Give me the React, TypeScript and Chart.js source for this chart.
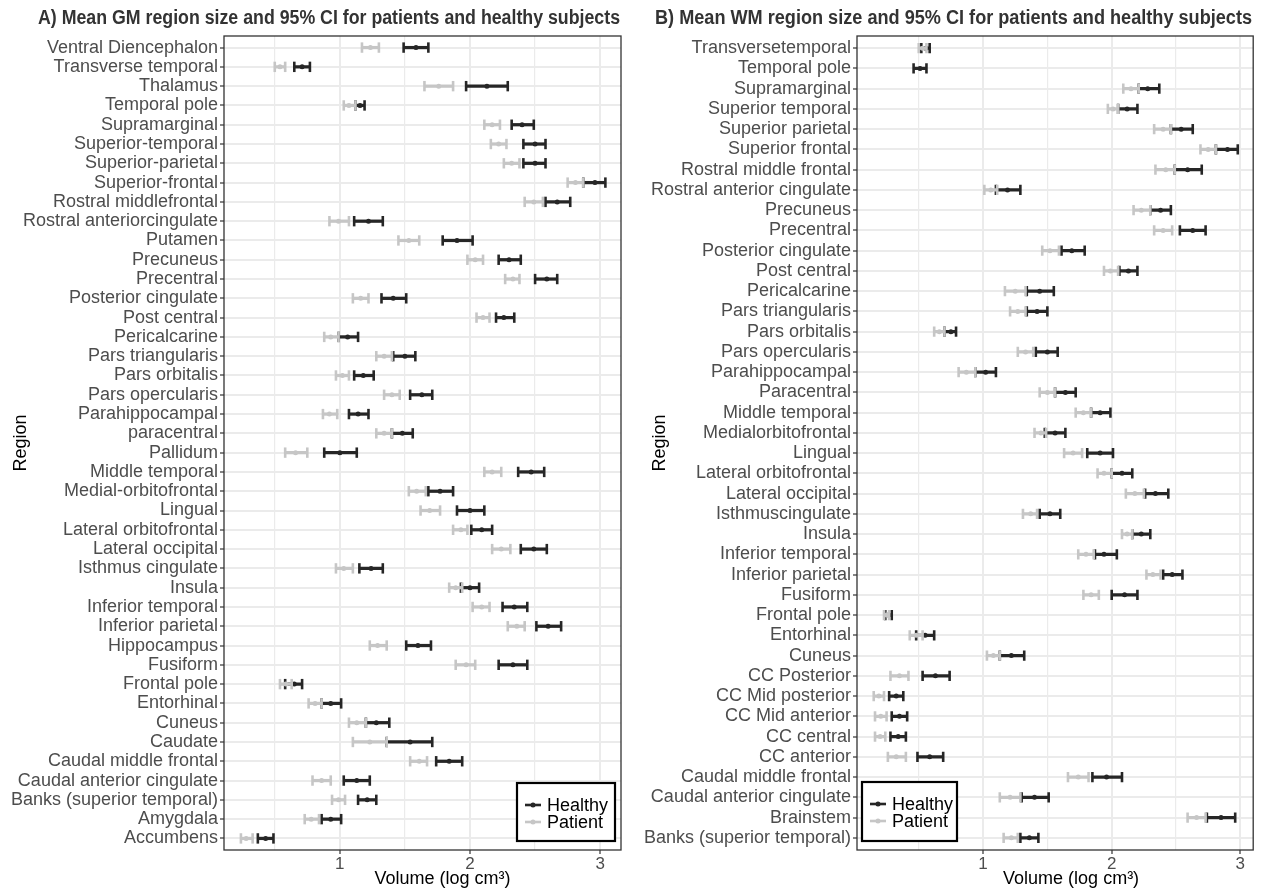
import React, { useEffect, useRef } from 'react';
import { Chart, registerables } from 'chart.js';

Chart.register(...registerables);

// ---------- Grey matter (panel A) ----------
const gmRegions = [
  'Ventral Diencephalon', 'Transverse temporal', 'Thalamus', 'Temporal pole', 'Supramarginal',
  'Superior-temporal', 'Superior-parietal', 'Superior-frontal', 'Rostral middlefrontal',
  'Rostral anteriorcingulate', 'Putamen', 'Precuneus', 'Precentral', 'Posterior cingulate',
  'Post central', 'Pericalcarine', 'Pars triangularis', 'Pars orbitalis', 'Pars opercularis',
  'Parahippocampal', 'paracentral', 'Pallidum', 'Middle temporal', 'Medial-orbitofrontal',
  'Lingual', 'Lateral orbitofrontal', 'Lateral occipital', 'Isthmus cingulate', 'Insula',
  'Inferior temporal', 'Inferior parietal', 'Hippocampus', 'Fusiform', 'Frontal pole',
  'Entorhinal', 'Cuneus', 'Caudate', 'Caudal middle frontal', 'Caudal anterior cingulate',
  'Banks (superior temporal)', 'Amygdala', 'Accumbens',
];
const gmHealthyLow = [
  1.49, 0.65, 1.97, 1.12, 2.32, 2.41, 2.41, 2.87, 2.58, 1.11, 1.79, 2.22, 2.50, 1.32,
  2.20, 0.99, 1.41, 1.11, 1.54, 1.07, 1.40, 0.88, 2.37, 1.68, 1.90, 2.01, 2.39, 1.15,
  1.93, 2.25, 2.51, 1.51, 2.22, 0.58, 0.86, 1.20, 1.36, 1.74, 1.03, 1.14, 0.86, 0.37,
];
const gmHealthyMean = [
  1.585, 0.71, 2.13, 1.155, 2.40, 2.50, 2.50, 2.96, 2.67, 1.22, 1.90, 2.30, 2.59, 1.41,
  2.26, 1.06, 1.50, 1.18, 1.63, 1.14, 1.48, 1.00, 2.47, 1.77, 2.00, 2.09, 2.49, 1.24,
  2.00, 2.34, 2.60, 1.60, 2.33, 0.65, 0.93, 1.28, 1.54, 1.84, 1.13, 1.21, 0.93, 0.43,
];
const gmHealthyHigh = [
  1.68, 0.77, 2.29, 1.19, 2.49, 2.58, 2.58, 3.04, 2.77, 1.33, 2.02, 2.39, 2.67, 1.51,
  2.34, 1.14, 1.58, 1.26, 1.71, 1.22, 1.56, 1.13, 2.57, 1.87, 2.11, 2.17, 2.59, 1.33,
  2.07, 2.44, 2.70, 1.70, 2.44, 0.71, 1.01, 1.38, 1.71, 1.94, 1.23, 1.28, 1.01, 0.49,
];
const gmPatientLow = [
  1.17, 0.50, 1.65, 1.03, 2.11, 2.16, 2.26, 2.75, 2.42, 0.92, 1.45, 1.98, 2.27, 1.10,
  2.05, 0.88, 1.28, 0.97, 1.34, 0.87, 1.28, 0.58, 2.11, 1.53, 1.62, 1.87, 2.17, 0.97,
  1.84, 2.02, 2.29, 1.23, 1.89, 0.54, 0.76, 1.07, 1.10, 1.54, 0.79, 0.94, 0.73, 0.24,
];
const gmPatientMean = [
  1.235, 0.54, 1.76, 1.07, 2.17, 2.22, 2.32, 2.81, 2.49, 0.99, 1.53, 2.04, 2.33, 1.16,
  2.10, 0.93, 1.34, 1.02, 1.40, 0.92, 1.34, 0.66, 2.17, 1.59, 1.69, 1.93, 2.24, 1.03,
  1.89, 2.09, 2.36, 1.29, 1.97, 0.585, 0.81, 1.13, 1.23, 1.61, 0.86, 0.99, 0.78, 0.28,
];
const gmPatientHigh = [
  1.30, 0.58, 1.87, 1.12, 2.23, 2.28, 2.38, 2.87, 2.56, 1.07, 1.61, 2.10, 2.38, 1.22,
  2.15, 0.99, 1.40, 1.07, 1.46, 0.98, 1.40, 0.75, 2.24, 1.66, 1.77, 1.98, 2.31, 1.10,
  1.94, 2.15, 2.42, 1.36, 2.04, 0.63, 0.86, 1.20, 1.36, 1.67, 0.93, 1.04, 0.84, 0.33,
];

// ---------- White matter (panel B) ----------
const wmRegions = [
  'Transversetemporal', 'Temporal pole', 'Supramarginal', 'Superior temporal', 'Superior parietal',
  'Superior frontal', 'Rostral middle frontal', 'Rostral anterior cingulate', 'Precuneus',
  'Precentral', 'Posterior cingulate', 'Post central', 'Pericalcarine', 'Pars triangularis',
  'Pars orbitalis', 'Pars opercularis', 'Parahippocampal', 'Paracentral', 'Middle temporal',
  'Medialorbitofrontal', 'Lingual', 'Lateral orbitofrontal', 'Lateral occipital',
  'Isthmuscingulate', 'Insula', 'Inferior temporal', 'Inferior parietal', 'Fusiform',
  'Frontal pole', 'Entorhinal', 'Cuneus', 'CC Posterior', 'CC Mid posterior', 'CC Mid anterior',
  'CC central', 'CC anterior', 'Caudal middle frontal', 'Caudal anterior cingulate', 'Brainstem',
  'Banks (superior temporal)',
];
const wmHealthyLow = [
  0.52, 0.46, 2.21, 2.05, 2.46, 2.81, 2.49, 1.10, 2.30, 2.53, 1.61, 2.06, 1.34, 1.34,
  0.70, 1.41, 0.94, 1.56, 1.84, 1.48, 1.81, 2.00, 2.26, 1.44, 2.16, 1.87, 2.40, 2.00,
  0.24, 0.48, 1.13, 0.53, 0.27, 0.29, 0.28, 0.49, 1.85, 1.30, 2.74, 1.29,
];
const wmHealthyMean = [
  0.555, 0.51, 2.28, 2.12, 2.54, 2.90, 2.59, 1.19, 2.38, 2.63, 1.69, 2.13, 1.44, 1.42,
  0.75, 1.50, 1.02, 1.64, 1.91, 1.56, 1.91, 2.08, 2.34, 1.52, 2.23, 1.94, 2.47, 2.10,
  0.265, 0.55, 1.22, 0.63, 0.325, 0.35, 0.34, 0.585, 1.96, 1.40, 2.85, 1.36,
];
const wmHealthyHigh = [
  0.585, 0.56, 2.37, 2.20, 2.63, 2.98, 2.70, 1.29, 2.46, 2.73, 1.79, 2.20, 1.55, 1.50,
  0.79, 1.58, 1.10, 1.72, 1.99, 1.64, 2.01, 2.16, 2.44, 1.60, 2.30, 2.04, 2.55, 2.20,
  0.29, 0.62, 1.32, 0.74, 0.38, 0.41, 0.40, 0.69, 2.08, 1.51, 2.96, 1.43,
];
const wmPatientLow = [
  0.50, null, 2.09, 1.97, 2.33, 2.69, 2.34, 1.01, 2.17, 2.33, 1.46, 1.94, 1.17, 1.21,
  0.62, 1.27, 0.81, 1.44, 1.72, 1.40, 1.63, 1.89, 2.11, 1.31, 2.08, 1.74, 2.27, 1.78,
  0.23, 0.43, 1.03, 0.28, 0.15, 0.16, 0.16, 0.26, 1.66, 1.13, 2.59, 1.16,
];
const wmPatientMean = [
  0.53, null, 2.15, 2.01, 2.40, 2.75, 2.42, 1.06, 2.23, 2.40, 1.52, 1.99, 1.25, 1.27,
  0.66, 1.33, 0.87, 1.50, 1.78, 1.45, 1.70, 1.94, 2.18, 1.37, 2.12, 1.80, 2.32, 1.84,
  0.25, 0.48, 1.08, 0.35, 0.19, 0.205, 0.20, 0.325, 1.74, 1.21, 2.66, 1.22,
];
const wmPatientHigh = [
  0.56, null, 2.21, 2.05, 2.46, 2.81, 2.49, 1.11, 2.30, 2.47, 1.59, 2.05, 1.33, 1.33,
  0.70, 1.39, 0.94, 1.56, 1.84, 1.49, 1.77, 2.00, 2.25, 1.42, 2.16, 1.86, 2.38, 1.90,
  0.27, 0.53, 1.13, 0.42, 0.23, 0.25, 0.24, 0.40, 1.82, 1.29, 2.73, 1.27,
];

const xTickValues = [1, 2, 3];

const HEALTHY = '#262626';
const PATIENT = '#c6c6c6';
const GRID = '#ebebeb';
const FONT = '"Liberation Sans", Arial, Helvetica, sans-serif';

type Arr = (number | null)[];

interface PanelSpec {
  regions: string[];
  hLow: Arr; hMean: Arr; hHigh: Arr;
  pLow: Arr; pMean: Arr; pHigh: Arr;
  xMin: number; xMax: number;
  canvasLeft: number; canvasWidth: number;
  axisWidth: number; padRight: number;
  title: string; titleX: number; titleW: number;
  regionPad: number; xTitleShift: number;
  legend: { left: number; top: number; w: number; h: number };
}

function groupDatasets(low: Arr, mean: Arr, high: Arr, color: string, label: string, order: number) {
  const rows = low.map((_, i) => i).filter((i) => low[i] != null && high[i] != null);
  return [
    {
      type: 'bar' as const,
      label: label + ' CI',
      indexAxis: 'y' as const,
      data: rows.map((i) => ({ x: [low[i], high[i]], y: i })),
      backgroundColor: color,
      borderWidth: 0,
      barThickness: 2.6,
      grouped: false,
      order,
    },
    {
      type: 'scatter' as const,
      label: label + ' limits',
      data: rows.flatMap((i) => [{ x: low[i], y: i }, { x: high[i], y: i }]),
      pointStyle: 'line',
      pointRotation: 90,
      pointRadius: 5.2,
      pointHoverRadius: 5.2,
      pointBorderColor: color,
      pointBorderWidth: 2.6,
      showLine: false,
      order,
    },
    {
      type: 'scatter' as const,
      label,
      data: rows.map((i) => ({ x: mean[i], y: i })),
      pointStyle: 'circle',
      pointRadius: 2.5,
      pointHoverRadius: 2.5,
      pointBackgroundColor: color,
      pointBorderColor: color,
      pointBorderWidth: 0,
      showLine: false,
      order,
    },
  ];
}

function decorPlugin(spec: PanelSpec) {
  return {
    id: 'panelDecor',
    afterDatasetsDraw(chart: any) {
      const { ctx, chartArea: a } = chart;
      ctx.save();
      ctx.strokeStyle = '#333333';
      ctx.lineWidth = 1.3;
      ctx.strokeRect(a.left, a.top, a.right - a.left, a.bottom - a.top);
      ctx.restore();
    },
    afterDraw(chart: any) {
      const { ctx, chartArea: a } = chart;
      ctx.save();
      // panel title, condensed to its column width
      ctx.font = `bold 20px ${FONT}`;
      const tw = ctx.measureText(spec.title).width;
      ctx.save();
      ctx.translate(spec.titleX, 18);
      ctx.scale(spec.titleW / tw, 1);
      ctx.fillStyle = '#333333';
      ctx.textBaseline = 'middle';
      ctx.textAlign = 'left';
      ctx.fillText(spec.title, 0, 0);
      ctx.restore();

      // x axis title
      ctx.font = `18px ${FONT}`;
      ctx.fillStyle = '#000000';
      ctx.textAlign = 'center';
      ctx.textBaseline = 'middle';
      ctx.fillText('Volume (log cm³)', (a.left + a.right) / 2 + spec.xTitleShift, 879);

      // legend
      const L = spec.legend;
      ctx.fillStyle = '#ffffff';
      ctx.fillRect(L.left, L.top, L.w, L.h);
      ctx.strokeStyle = '#000000';
      ctx.lineWidth = 2.2;
      ctx.strokeRect(L.left, L.top, L.w, L.h);
      const items = [
        { label: 'Healthy', color: HEALTHY, dy: 22 },
        { label: 'Patient', color: PATIENT, dy: 39 },
      ];
      ctx.font = `18px ${FONT}`;
      ctx.textAlign = 'left';
      for (const it of items) {
        const y = L.top + it.dy;
        ctx.strokeStyle = it.color;
        ctx.lineWidth = 2.6;
        ctx.beginPath();
        ctx.moveTo(L.left + 8, y);
        ctx.lineTo(L.left + 24, y);
        ctx.stroke();
        ctx.fillStyle = it.color;
        ctx.beginPath();
        ctx.arc(L.left + 16, y, 2.5, 0, Math.PI * 2);
        ctx.fill();
        ctx.fillStyle = '#000000';
        ctx.fillText(it.label, L.left + 30, y + 1);
      }
      ctx.restore();
    },
  };
}

function Panel({ spec }: { spec: PanelSpec }) {
  const ref = useRef<HTMLCanvasElement>(null);
  useEffect(() => {
    if (!ref.current) return;
    const n = spec.regions.length;
    const chart = new Chart(ref.current, {
      type: 'scatter',
      data: {
        datasets: [
          ...groupDatasets(spec.pLow, spec.pMean, spec.pHigh, PATIENT, 'Patient', 0),
          ...groupDatasets(spec.hLow, spec.hMean, spec.hHigh, HEALTHY, 'Healthy', 1),
        ] as any,
      },
      options: {
        responsive: false,
        animation: false,
        events: [],
        layout: { padding: { top: 36, right: spec.padRight, bottom: 0, left: 0 } },
        plugins: { legend: { display: false }, tooltip: { enabled: false }, title: { display: false } },
        scales: {
          x: {
            type: 'linear',
            position: 'bottom',
            min: spec.xMin,
            max: spec.xMax,
            offset: false,
            border: { display: false },
            grid: {
              color: GRID,
              lineWidth: (c: any) => (xTickValues.includes(c.tick?.value) ? 2 : 1.2),
              tickColor: (c: any) => (xTickValues.includes(c.tick?.value) ? '#333333' : 'rgba(0,0,0,0)'),
              tickLength: 4,
              tickWidth: 1.2,
            },
            ticks: {
              stepSize: 0.5,
              includeBounds: false,
              autoSkip: false,
              maxRotation: 0,
              padding: 0,
              color: '#4d4d4d',
              font: { family: FONT, size: 17 },
              callback: (v: any) => (xTickValues.includes(Number(v)) ? String(v) : ''),
            },
            afterFit: (s: any) => { s.height = 40; },
          },
          y: {
            type: 'linear',
            position: 'left',
            reverse: true,
            min: -0.6,
            max: n - 1 + 0.6,
            offset: false,
            border: { display: false },
            grid: { color: GRID, lineWidth: 2, offset: false, tickColor: '#333333', tickLength: 4, tickWidth: 1.2 },
            ticks: {
              stepSize: 1,
              includeBounds: false,
              autoSkip: false,
              padding: 2,
              color: '#4d4d4d',
              font: { family: FONT, size: 18 },
              callback: (v: any) => (Number.isInteger(Number(v)) ? spec.regions[Number(v)] ?? '' : ''),
            },
            title: {
              display: true,
              text: 'Region',
              color: '#000000',
              font: { family: FONT, size: 18 },
              padding: { top: spec.regionPad, bottom: 0 },
            },
            afterFit: (s: any) => { s.width = spec.axisWidth; },
          },
        },
      } as any,
      plugins: [decorPlugin(spec)],
    });
    return () => chart.destroy();
  }, [spec]);
  return (
    <canvas
      ref={ref}
      width={spec.canvasWidth}
      height={890}
      style={{ position: 'absolute', left: spec.canvasLeft, top: 0, width: spec.canvasWidth, height: 890 }}
    />
  );
}

const panelA: PanelSpec = {
  regions: gmRegions,
  hLow: gmHealthyLow, hMean: gmHealthyMean, hHigh: gmHealthyHigh,
  pLow: gmPatientLow, pMean: gmPatientMean, pHigh: gmPatientHigh,
  xMin: 0.11, xMax: 3.16,
  canvasLeft: 0, canvasWidth: 630,
  axisWidth: 224, padRight: 9,
  title: 'A) Mean GM region size and 95% CI for patients and healthy subjects',
  titleX: 38, titleW: 582,
  regionPad: 10, xTitleShift: 20,
  legend: { left: 517, top: 783, w: 98, h: 58 },
};

const panelB: PanelSpec = {
  regions: wmRegions,
  hLow: wmHealthyLow, hMean: wmHealthyMean, hHigh: wmHealthyHigh,
  pLow: wmPatientLow, pMean: wmPatientMean, pHigh: wmPatientHigh,
  xMin: 0.02, xMax: 3.1,
  canvasLeft: 630, canvasWidth: 631,
  axisWidth: 227, padRight: 6,
  title: 'B) Mean WM region size and 95% CI for patients and healthy subjects',
  titleX: 25, titleW: 597,
  regionPad: 19, xTitleShift: 16,
  legend: { left: 232, top: 782, w: 95, h: 59 },
};

export default function App() {
  return (
    <div style={{ position: 'absolute', left: 0, top: 0, width: 1261, height: 890, background: '#ffffff' }}>
      <Panel spec={panelA} />
      <Panel spec={panelB} />
    </div>
  );
}
